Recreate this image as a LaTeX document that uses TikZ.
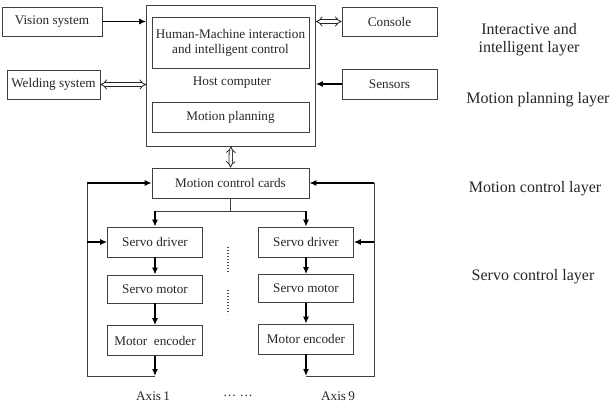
\documentclass[tikz,border=0pt]{standalone}
\usepackage{fontspec}
\setmainfont{Liberation Serif}
\usetikzlibrary{arrows.meta}

\begin{document}
\begin{tikzpicture}[
        x=1pt, y=-1pt,
        every node/.style={font=\fontsize{13.2}{14.8}\selectfont, text=black!85},
        box/.style={draw=black!75, line width=0.7pt, minimum width=95pt, minimum height=30pt, inner sep=1pt},
        wide/.style={box, minimum width=157pt},
        layer/.style={font=\fontsize{16}{18}\selectfont, align=center},
        sig/.style={line width=1.4pt, -{Latex[length=7pt, width=6pt]}},
        bus/.style={draw=black!85, double, double distance=2.6pt, line width=0.8pt, {Implies}-{Implies}},
        loop/.style={line width=0.7pt, draw=black!75}
    ]
        \useasboundingbox (0,0) rectangle (611,406);

        % Vẽ máy tính chủ
        \node [box, minimum width=169pt, minimum height=141pt] (host) at (231,75.5) {};
        \node [wide, minimum height=51pt, align=center] (hmi) at (230.5,42.5)
            {Human-Machine interaction\\and intelligent control};
        \node (hostname) at (232,83) {Host computer};
        \node [wide] (plan) at (230.5,117.5) {Motion planning};

        % Các khối bên ngoài
        \node [box, minimum width=100pt, minimum height=29pt] (vision) at (52,21.5) {Vision system};
        \node [box, minimum width=93pt, minimum height=29pt] (weld) at (53.5,84.5) {Welding system};
        \node [box, minimum height=29pt] (console) at (389.5,21.5) {Console};
        \node [box] (sensors) at (389.5,84) {Sensors};

        % Card điều khiển và các trục
        \node [wide] (mcc) at (230.5,183) {Motion control cards};
        \node [box] (drv1) at (155,242) {Servo driver};
        \node [box, minimum height=28pt] (mot1) at (155,289) {Servo motor};
        \node [box] (enc1) at (155,340.5) {Motor\ \ encoder};
        \node [box] (drv2) at (306,242) {Servo driver};
        \node [box, minimum height=28pt] (mot2) at (306,288.5) {Servo motor};
        \node [box] (enc2) at (306,339) {Motor encoder};

        \coordinate (split) at (230.5,211);
        \coordinate (end1) at (155,376);
        \coordinate (end2) at (306,376);
        \coordinate (fb1) at (87,376);
        \coordinate (fb2) at (374,376);

        % Nhãn các tầng
        \node [layer] (l1) at (529,40) {Interactive and\\intelligent layer};
        \node [layer] (l2) at (538,100) {Motion planning layer};
        \node [layer] (l3) at (535,189) {Motion control layer};
        \node [layer] (l4) at (533,277) {Servo control layer};

        \node (ax1) at (153,396) {Axis\,1};
        \node (axdots) at (238,396) {\dots\ \dots};
        \node (ax9) at (338,396) {Axis\,9};

        % Các mũi tên
        \draw[sig] (vision.east) -- (vision.east -| host.west);
        \draw[sig] (sensors.west) -- (sensors.west -| host.east);
        \draw[bus] (weld.east) -- (weld.east -| host.west);
        \draw[bus] (console.west) -- (console.west -| host.east);
        \draw[bus] (host.south) -- (mcc.north);

        \draw[loop] (mcc.south) -- (split);
        \draw[loop] (split -| drv1) -- (split -| drv2);
        \draw[sig] (split -| drv1) -- (drv1.north);
        \draw[sig] (split -| drv2) -- (drv2.north);

        \draw[sig] (drv1) -- (mot1);
        \draw[sig] (mot1) -- (enc1);
        \draw[sig] (enc1) -- (end1);
        \draw[sig] (drv2) -- (mot2);
        \draw[sig] (mot2) -- (enc2);
        \draw[sig] (enc2) -- (end2);

        % Vòng phản hồi
        \draw[loop] (end1) -- (fb1) -- (fb1 |- mcc);
        \draw[sig] (fb1 |- mcc) -- (mcc.west);
        \draw[sig] (fb1 |- drv1) -- (drv1.west);
        \draw[loop] (end2) -- (fb2) -- (fb2 |- mcc);
        \draw[sig] (fb2 |- mcc) -- (mcc.east);
        \draw[sig] (fb2 |- drv2) -- (drv2.east);

        % Dấu chấm giữa hai trục
        \draw[line width=1.3pt, dash pattern=on 1.2pt off 1.8pt, black!70] (228,247) -- (228,273);
        \draw[line width=1.3pt, dash pattern=on 1.2pt off 1.8pt, black!70] (228,290) -- (228,314);
    \end{tikzpicture}
\end{document}
